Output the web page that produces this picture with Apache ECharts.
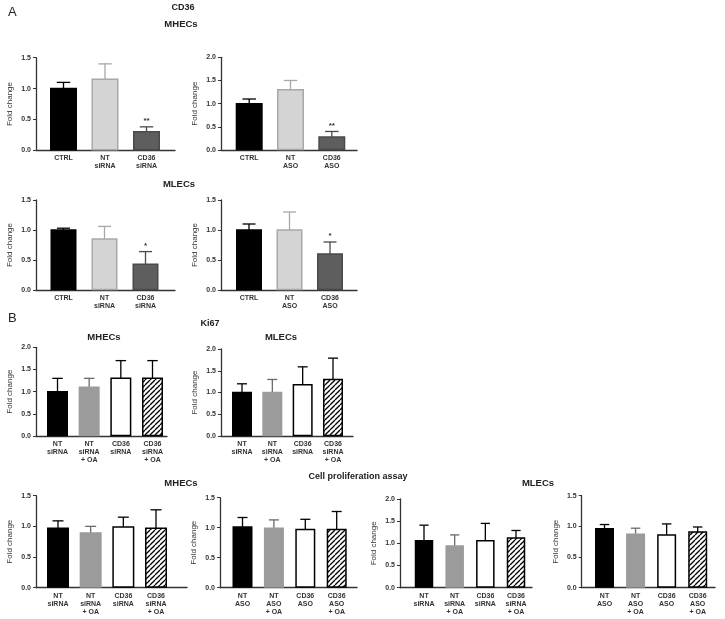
<!DOCTYPE html>
<html><head><meta charset="utf-8">
<script src="https://cdn.jsdelivr.net/npm/echarts/dist/echarts.min.js"></script>
<style>html,body{margin:0;padding:0;background:#fff}#c{width:725px;height:619px}</style>
</head><body><div id="c"></div><script>
// ---------- categories ----------
const catsA_siRNA = ['CTRL', 'NT\nsiRNA', 'CD36\nsiRNA'];
const catsA_ASO = ['CTRL', 'NT\nASO', 'CD36\nASO'];
const catsB_siRNA = ['NT\nsiRNA', 'NT\nsiRNA\n+ OA', 'CD36\nsiRNA', 'CD36\nsiRNA\n+ OA'];
const catsB_ASO = ['NT\nASO', 'NT\nASO\n+ OA', 'CD36\nASO', 'CD36\nASO\n+ OA'];

// ---------- A: CD36 ----------
const a1Mean = [1.00, 1.15, 0.30]; const a1Err = [0.10, 0.25, 0.08]; const a1Sig = ['', '', '**'];
const a2Mean = [1.00, 1.30, 0.28]; const a2Err = [0.10, 0.20, 0.12]; const a2Sig = ['', '', '**'];
const a3Mean = [1.00, 0.85, 0.43]; const a3Err = [0.03, 0.21, 0.21]; const a3Sig = ['', '', '*'];
const a4Mean = [1.00, 1.00, 0.60]; const a4Err = [0.10, 0.30, 0.20]; const a4Sig = ['', '', '*'];
// ---------- B: Ki67 ----------
const b1Mean = [1.00, 1.10, 1.30, 1.30]; const b1Err = [0.30, 0.20, 0.40, 0.40];
const b2Mean = [1.00, 1.00, 1.18, 1.30]; const b2Err = [0.20, 0.30, 0.41, 0.49];
// ---------- Cell proliferation ----------
const c1Mean = [0.97, 0.89, 0.99, 0.97]; const c1Err = [0.12, 0.11, 0.16, 0.30];
const c2Mean = [1.01, 0.99, 0.97, 0.97]; const c2Err = [0.16, 0.14, 0.17, 0.30];
const c3Mean = [1.06, 0.94, 1.06, 1.12]; const c3Err = [0.35, 0.25, 0.39, 0.17];
const c4Mean = [0.96, 0.87, 0.86, 0.91]; const c4Err = [0.07, 0.10, 0.18, 0.08];
// ---------- tick labels / axis ----------
const yTickLabels = ['0.0', '0.5', '1.0', '1.5', '2.0'];

// ---------- styles ----------
const hatch = (function () {
  const s = 5, cv = document.createElement('canvas');
  cv.width = s; cv.height = s;
  const g = cv.getContext('2d');
  g.fillStyle = '#fff'; g.fillRect(0, 0, s, s);
  g.strokeStyle = '#000'; g.lineWidth = 1.3;
  for (let k = -1; k <= 1; k++) {
    g.beginPath(); g.moveTo(k * s, s); g.lineTo(k * s + s, 0); g.stroke();
  }
  return { image: cv, repeat: 'repeat' };
})();
const stylesA = [
  { fill: '#000000', stroke: '#000000', err: '#000000' },
  { fill: '#d4d4d4', stroke: '#a8a8a8', err: '#a8a8a8' },
  { fill: '#5e5e5e', stroke: '#4a4a4a', err: '#4a4a4a' }
];
const stylesB = [
  { fill: '#000000', stroke: '#000000', err: '#000000' },
  { fill: '#9b9b9b', stroke: '#9b9b9b', err: '#6a6a6a' },
  { fill: '#ffffff', stroke: '#000000', err: '#000000' },
  { fill: hatch, stroke: '#000000', err: '#000000' }
];
const FONT = '"Liberation Sans", Arial, sans-serif';

// ---------- panel layouts (pixels) ----------
const panels = [
  { cats: catsA_siRNA, mean: a1Mean, err: a1Err, sig: a1Sig, styles: stylesA, max: 1.5, x0: 36, x1: 175, yTop: 57.7, yZero: 150.3, c0: 63.5, cN: 146.5, bw: 27 },
  { cats: catsA_ASO, mean: a2Mean, err: a2Err, sig: a2Sig, styles: stylesA, max: 2.0, x0: 221, x1: 357, yTop: 57.3, yZero: 150, c0: 249.2, cN: 331.8, bw: 27 },
  { cats: catsA_siRNA, mean: a3Mean, err: a3Err, sig: a3Sig, styles: stylesA, max: 1.5, x0: 36, x1: 175, yTop: 200, yZero: 290, c0: 63.5, cN: 145.5, bw: 26 },
  { cats: catsA_ASO, mean: a4Mean, err: a4Err, sig: a4Sig, styles: stylesA, max: 1.5, x0: 221, x1: 357, yTop: 200, yZero: 290, c0: 249, cN: 330, bw: 26 },
  { cats: catsB_siRNA, mean: b1Mean, err: b1Err, sig: null, styles: stylesB, max: 2.0, x0: 36, x1: 167, yTop: 347.3, yZero: 436, c0: 57.5, cN: 152.5, bw: 21 },
  { cats: catsB_siRNA, mean: b2Mean, err: b2Err, sig: null, styles: stylesB, max: 2.0, x0: 221, x1: 353, yTop: 349, yZero: 436, c0: 242, cN: 333, bw: 20 },
  { cats: catsB_siRNA, mean: c1Mean, err: c1Err, sig: null, styles: stylesB, max: 1.5, x0: 36, x1: 187, yTop: 495.7, yZero: 587.7, c0: 58, cN: 156, bw: 22 },
  { cats: catsB_ASO, mean: c2Mean, err: c2Err, sig: null, styles: stylesB, max: 1.5, x0: 220, x1: 357, yTop: 497.7, yZero: 587.7, c0: 242.5, cN: 336.7, bw: 20 },
  { cats: catsB_siRNA, mean: c3Mean, err: c3Err, sig: null, styles: stylesB, max: 2.0, x0: 400, x1: 532, yTop: 499, yZero: 587.7, c0: 424, cN: 516, bw: 18.5 },
  { cats: catsB_ASO, mean: c4Mean, err: c4Err, sig: null, styles: stylesB, max: 1.5, x0: 581.7, x1: 715, yTop: 495.7, yZero: 587.7, c0: 604.5, cN: 697.7, bw: 19 }
];

const grid = [], xAxis = [], yAxis = [], series = [];
panels.forEach(function (p, k) {
  const n = p.cats.length;
  const step = (p.cN - p.c0) / (n - 1);
  grid.push({ left: p.x0, top: p.yTop, width: p.x1 - p.x0, height: p.yZero - p.yTop });
  xAxis.push({
    gridIndex: k, type: 'value',
    min: -(p.c0 - p.x0) / step, max: (n - 1) + (p.x1 - p.cN) / step,
    axisLine: { show: true, onZero: false, lineStyle: { color: '#333', width: 1.3 } },
    axisTick: { show: false }, axisLabel: { show: false }, splitLine: { show: false }
  });
  yAxis.push({
    gridIndex: k, type: 'value', min: 0, max: p.max, interval: 0.5,
    name: 'Fold change', nameLocation: 'middle', nameGap: 22,
    nameTextStyle: { fontFamily: FONT, fontSize: 8, color: '#333' },
    axisLine: { show: true, onZero: false, lineStyle: { color: '#333', width: 1.3 } },
    axisTick: { show: true, length: 3, lineStyle: { color: '#333', width: 1 } },
    axisLabel: {
      margin: 5, fontFamily: FONT, fontSize: 7, fontWeight: 'bold', color: '#333',
      formatter: function (v) { return yTickLabels[Math.round(v / 0.5)]; }
    },
    splitLine: { show: false }
  });
  const data = p.mean.map(function (m, i) { return [i, m, p.err[i]]; });
  series.push({
    type: 'custom', xAxisIndex: k, yAxisIndex: k, clip: false,
    encode: { x: 0, y: 1 },
    data: data,
    renderItem: function (params, api) {
      const i = params.dataIndex;
      const v = api.value(1), e = api.value(2);
      const top = api.coord([api.value(0), v]);
      const base = api.coord([api.value(0), 0]);
      const et = api.coord([api.value(0), v + e]);
      const st = p.styles[i];
      const w = p.bw, cx = top[0];
      const ch = [
        { type: 'line', shape: { x1: cx, y1: top[1], x2: cx, y2: et[1] }, style: { stroke: st.err, lineWidth: 1.3 } },
        { type: 'line', shape: { x1: cx - w * 0.25, y1: et[1], x2: cx + w * 0.25, y2: et[1] }, style: { stroke: st.err, lineWidth: 1.3 } },
        { type: 'rect', shape: { x: cx - w / 2 + 0.75, y: top[1], width: w - 1.5, height: base[1] - top[1] - 0.6 },
          style: { fill: st.fill, stroke: st.stroke, lineWidth: 1.5 } },
        { type: 'text', style: { text: p.cats[i], x: cx, y: base[1] + 4, align: 'center', verticalAlign: 'top',
          fontFamily: FONT, fontSize: 7, fontWeight: 'bold', lineHeight: 8, fill: '#333' } }
      ];
      if (p.sig && p.sig[i]) {
        ch.push({ type: 'text', style: { text: p.sig[i], x: cx, y: et[1] - 2, align: 'center', verticalAlign: 'bottom',
          fontFamily: FONT, fontSize: 8, fontWeight: 'bold', fill: '#333' } });
      }
      return { type: 'group', children: ch };
    }
  });
});

function label(text, x, y, size, bold, align) {
  return { type: 'text', x: x, y: y, style: { text: text, align: align || 'center', verticalAlign: 'middle',
    fontFamily: FONT, fontSize: size, fontWeight: bold ? 'bold' : 'normal', fill: '#222' } };
}
const graphic = [
  label('A', 8, 12, 13, false, 'left'),
  label('CD36', 183, 8, 9, true),
  label('MHECs', 181, 24, 9.5, true),
  label('MLECs', 179, 184, 9.5, true),
  label('B', 8, 318, 13, false, 'left'),
  label('Ki67', 210, 324, 9, true),
  label('MHECs', 104, 337, 9.5, true),
  label('MLECs', 281, 337, 9.5, true),
  label('Cell proliferation assay', 358, 477, 9, true),
  label('MHECs', 181, 483, 9.5, true),
  label('MLECs', 538, 483, 9.5, true)
];

const chart = echarts.init(document.getElementById('c'), null, { renderer: 'canvas' });
chart.setOption({ animation: false, backgroundColor: '#fff', grid: grid, xAxis: xAxis, yAxis: yAxis, series: series, graphic: graphic });
</script></body></html>
